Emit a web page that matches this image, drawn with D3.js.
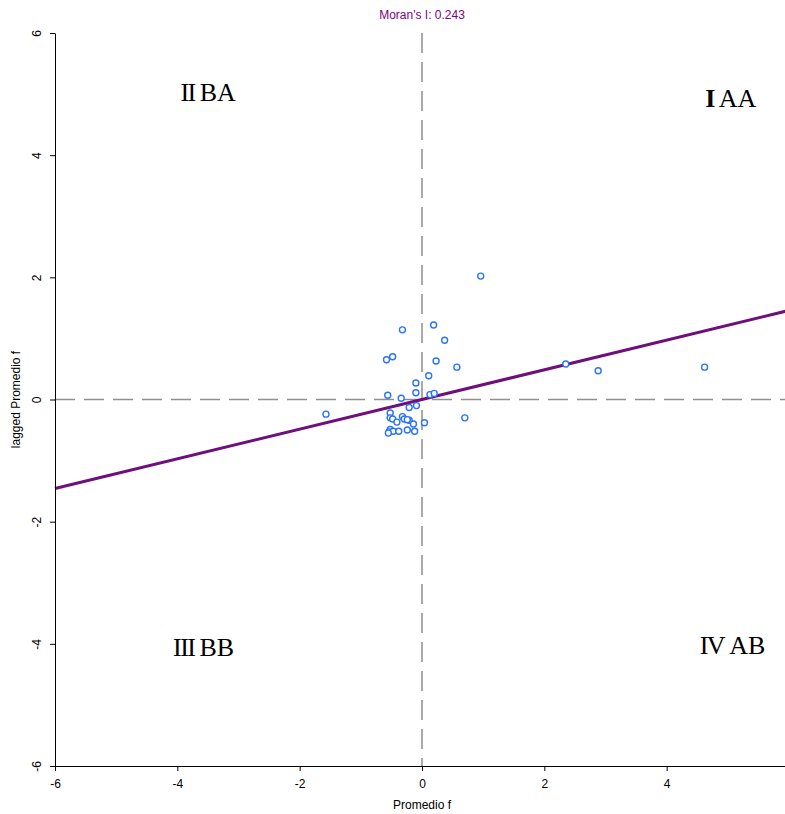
<!DOCTYPE html>
<html>
<head>
<meta charset="utf-8">
<script src="https://cdn.jsdelivr.net/npm/d3@7"></script>
<style>
  body { margin: 0; background: #fff; }
  svg text { font-family: "Liberation Sans", Arial, sans-serif; }
  .quad { font-family: "Liberation Serif", "Times New Roman", serif !important; font-size: 26px; }
</style>
</head>
<body>
<svg id="chart"></svg>
<script>
// Moran scatter: standardized value vs spatially lagged value
const xVals = [0.96, 0.19, -0.32, 0.37, -0.48, -0.58, 0.23, 0.57, 0.11, -0.10,
  -0.10, -0.56, 0.13, 0.20, -0.34, -1.57, -0.21, -0.09, -0.52, -0.52,
  -0.48, -0.32, -0.29, -0.41, -0.21, -0.24, -0.14, 0.04, 0.70, -0.52,
  -0.54, -0.47, -0.38, -0.24, -0.12, -0.55, 2.35, 2.88, 4.62];
const yVals = [2.02, 1.22, 1.14, 0.97, 0.70, 0.65, 0.63, 0.53, 0.39, 0.27,
  0.11, 0.07, 0.08, 0.10, 0.02, -0.24, -0.13, -0.10, -0.22, -0.30,
  -0.32, -0.28, -0.32, -0.37, -0.34, -0.33, -0.40, -0.38, -0.30, -0.49,
  -0.53, -0.52, -0.52, -0.50, -0.52, -0.55, 0.58, 0.47, 0.53];

const moransI = 0.243;
const intercept = 0.0;

const xTicks = [-6, -4, -2, 0, 2, 4];
const yTicks = [-6, -4, -2, 0, 2, 4, 6];

const quadNums = ['I', 'II', 'III', 'IV'];
const quadLabels = ['AA', 'BA', 'BB', 'AB'];
const quadX = [4.63, -3.95, -4.07, 4.54];
const quadY = [4.79, 4.89, -4.2, -4.16];

const width = 785, height = 814;
const margin = {top: 33, left: 55, bottom: 48};

const x = d3.scaleLinear().domain([-6, 6]).range([margin.left, 789]);
const y = d3.scaleLinear().domain([-6, 6]).range([height - margin.bottom, margin.top]);

const svg = d3.select('#chart')
  .attr('width', width)
  .attr('height', height);

// dashed zero lines
svg.append('line')
  .attr('x1', x(-6)).attr('x2', x(6))
  .attr('y1', y(0)).attr('y2', y(0))
  .attr('stroke', '#8f8f8f').attr('stroke-width', 1.5)
  .attr('stroke-dasharray', '20,9');

svg.append('line')
  .attr('x1', x(0)).attr('x2', x(0))
  .attr('y1', y(6)).attr('y2', y(-6))
  .attr('stroke', '#8f8f8f').attr('stroke-width', 1.5)
  .attr('stroke-dasharray', '20,9');

// regression line
svg.append('line')
  .attr('x1', x(-6)).attr('x2', x(6))
  .attr('y1', y(intercept + moransI * -6))
  .attr('y2', y(intercept + moransI * 6))
  .attr('stroke', '#6e0f7c').attr('stroke-width', 3);

// points
svg.selectAll('circle.pt')
  .data(xVals)
  .enter().append('circle')
  .attr('class', 'pt')
  .attr('cx', (d) => x(d))
  .attr('cy', (d, i) => y(yVals[i]))
  .attr('r', 3)
  .attr('fill', 'white')
  .attr('stroke', '#2a74f5')
  .attr('stroke-width', 1.4);

// axes
const fmt = (d) => String(d);
const xAxis = svg.append('g')
  .attr('transform', 'translate(0,' + y(-6) + ')')
  .call(d3.axisBottom(x).tickValues(xTicks).tickFormat(fmt).tickSize(5).tickSizeOuter(0));
xAxis.select('.domain').attr('d', 'M' + x(-6) + ',0.5H' + width);
xAxis.selectAll('text').attr('font-size', 12).attr('dy', '1.2em').attr('fill', '#000');

const yAxis = svg.append('g')
  .attr('transform', 'translate(' + x(-6) + ',0)')
  .call(d3.axisLeft(y).tickValues(yTicks).tickFormat(fmt).tickSize(5).tickSizeOuter(0));
yAxis.selectAll('text')
  .attr('font-size', 12)
  .attr('fill', '#000')
  .attr('x', null).attr('dy', null)
  .attr('transform', 'translate(-14,0) rotate(-90)')
  .attr('text-anchor', 'middle');

// titles
svg.append('text')
  .attr('x', x(0)).attr('y', 19)
  .attr('text-anchor', 'middle')
  .attr('font-size', 12)
  .attr('fill', '#800080')
  .text("Moran's I: " + moransI);

svg.append('text')
  .attr('x', x(0)).attr('y', 809)
  .attr('text-anchor', 'middle')
  .attr('font-size', 12)
  .text('Promedio f');

svg.append('text')
  .attr('transform', 'translate(20,' + y(0) + ') rotate(-90)')
  .attr('text-anchor', 'middle')
  .attr('font-size', 12)
  .text('lagged Promedio f');

// quadrant labels
const quad = svg.selectAll('text.quad')
  .data(quadLabels)
  .enter().append('text')
  .attr('class', 'quad')
  .attr('x', (d, i) => x(quadX[i]))
  .attr('y', (d, i) => y(quadY[i]));

quad.append('tspan')
  .attr('letter-spacing', -1.5)
  .attr('font-weight', (d, i) => i === 0 ? 'bold' : 'normal')
  .text((d, i) => quadNums[i]);
quad.append('tspan')
  .attr('dx', 5)
  .text((d) => d);
</script>
</body>
</html>
